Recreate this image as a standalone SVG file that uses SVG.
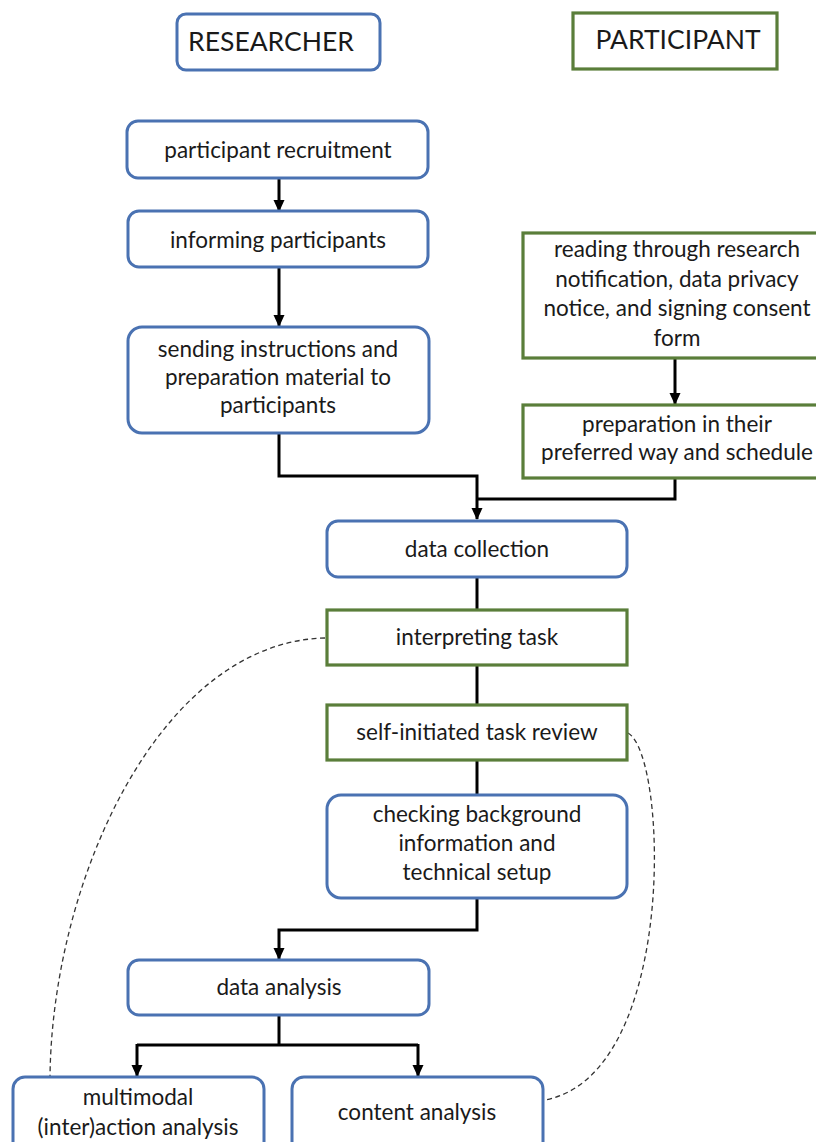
<svg xmlns="http://www.w3.org/2000/svg" width="816" height="1142" viewBox="0 0 816 1142">
<style>
.b{fill:#fff;stroke:#4a72b2;stroke-width:3}
.g{fill:#fff;stroke:#5a7e3a;stroke-width:3.2}
text{font-family:Lato,"Open Sans","Liberation Sans",sans-serif;font-size:22.5px;fill:#1a1a1a;text-anchor:middle}
.h{font-size:26.5px}
.c{fill:none;stroke:#000;stroke-width:3}
.d{fill:none;stroke:#333;stroke-width:1.3;stroke-dasharray:5 3.5}
</style>
<defs>
<marker id="arr" markerWidth="12" markerHeight="12" refX="11" refY="6" orient="auto" markerUnits="userSpaceOnUse" viewBox="0 0 12 12">
<path d="M0,0.5 L12,6 L0,11.5 Z" fill="#000"/>
</marker>
</defs>
<g id="connectors">
<path class="c" d="M279,178 V211" marker-end="url(#arr)"/>
<path class="c" d="M279,267 V326" marker-end="url(#arr)"/>
<path class="c" d="M675,358 V404" marker-end="url(#arr)"/>
<path class="c" d="M279,433 V476 H477 V519" marker-end="url(#arr)"/>
<path class="c" d="M675,478 V499 H477"/>
<path class="c" d="M477,577 V610"/>
<path class="c" d="M477,665 V705"/>
<path class="c" d="M477,760 V795"/>
<path class="c" d="M477,898 V930 H279 V959" marker-end="url(#arr)"/>
<path class="c" d="M279,1015 V1045"/>
<path class="c" d="M137,1045 H418"/>
<path class="c" d="M137,1044 V1076" marker-end="url(#arr)"/>
<path class="c" d="M418,1044 V1076" marker-end="url(#arr)"/>
<path class="d" d="M325,638 C160,642 52,880 50,1077"/>
<path class="d" d="M628,733 C668,755 678,1075 545,1100"/>
</g>
<g id="researcher">
<rect class="b" x="177" y="14" width="203" height="56" rx="9"/>
<text class="h" x="271" y="51">RESEARCHER</text>
</g>
<g id="participant">
<rect class="g" x="573" y="13" width="204" height="56"/>
<text class="h" x="678" y="49">PARTICIPANT</text>
</g>
<g id="recruitment">
<rect class="b" x="127" y="121" width="301" height="57" rx="11"/>
<text x="278" y="158">participant recruitment</text>
</g>
<g id="informing">
<rect class="b" x="128" y="211" width="300" height="56" rx="11"/>
<text x="278" y="248">informing participants</text>
</g>
<g id="sending">
<rect class="b" x="128" y="327" width="301" height="106" rx="14"/>
<text x="278" y="357">sending instructions and</text>
<text x="278" y="385">preparation material to</text>
<text x="278" y="413">participants</text>
</g>
<g id="reading">
<rect class="g" x="523" y="233" width="310" height="125"/>
<text x="677" y="257">reading through research</text>
<text x="677" y="287">notification, data privacy</text>
<text x="677" y="316">notice, and signing consent</text>
<text x="677" y="346">form</text>
</g>
<g id="preparation">
<rect class="g" x="523" y="405" width="310" height="73"/>
<text x="677" y="432">preparation in their</text>
<text x="677" y="460">preferred way and schedule</text>
</g>
<g id="collection">
<rect class="b" x="327" y="521" width="300" height="56" rx="11"/>
<text x="477" y="557">data collection</text>
</g>
<g id="interpreting">
<rect class="g" x="327" y="610" width="300" height="55"/>
<text x="477" y="645">interpreting task</text>
</g>
<g id="review">
<rect class="g" x="327" y="705" width="300" height="55"/>
<text x="477" y="740">self-initiated task review</text>
</g>
<g id="checking">
<rect class="b" x="327" y="795" width="300" height="103" rx="14"/>
<text x="477" y="822">checking background</text>
<text x="477" y="851">information and</text>
<text x="477" y="880">technical setup</text>
</g>
<g id="analysis">
<rect class="b" x="128" y="960" width="301" height="55" rx="11"/>
<text x="279" y="995">data analysis</text>
</g>
<g id="multimodal">
<rect class="b" x="13" y="1077" width="251" height="80" rx="12"/>
<text x="138" y="1105">multimodal</text>
<text x="138" y="1135">(inter)action analysis</text>
</g>
<g id="content">
<rect class="b" x="292" y="1077" width="251" height="80" rx="12"/>
<text x="417" y="1120">content analysis</text>
</g>
</svg>
